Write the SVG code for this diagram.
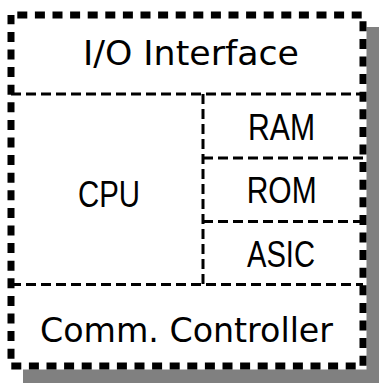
<svg xmlns="http://www.w3.org/2000/svg" width="379" height="383" viewBox="0 0 379 383">
  <style>
    .lbl { font-family: "DejaVu Sans", "Liberation Sans", sans-serif; font-size: 33px; fill: #000; text-anchor: middle; }
    .cap { font-family: "Liberation Sans", Arial, sans-serif; font-size: 37px; fill: #000; text-anchor: middle; }
    .inner { stroke: #000; stroke-width: 3; stroke-dasharray: 10 5; fill: none; }
    .outer { stroke: #000; stroke-width: 7; stroke-dasharray: 10 7.6; stroke-dashoffset: 11.3; fill: none; }
  </style>
  <rect x="23" y="27" width="356" height="356" fill="#808080"/>
  <rect x="7.5" y="11.5" width="359" height="358" fill="#fff"/>
  <g id="connectors">
    <line class="inner" x1="11" y1="94" x2="363" y2="94"/>
    <line class="inner" x1="11" y1="284.5" x2="363" y2="284.5"/>
    <line class="inner" x1="203" y1="94" x2="203" y2="284.5"/>
    <line class="inner" x1="203" y1="158" x2="363" y2="158"/>
    <line class="inner" x1="203" y1="221.5" x2="363" y2="221.5"/>
  </g>
  <g id="outer-box">
    <rect class="outer" x="11" y="15" width="352" height="351"/>
  </g>
  <g id="io-interface">
    <text class="lbl" x="191" y="65" textLength="216" lengthAdjust="spacingAndGlyphs">I/O Interface</text>
  </g>
  <g id="cpu">
    <text class="cap" x="109" y="207" textLength="62" lengthAdjust="spacingAndGlyphs">CPU</text>
  </g>
  <g id="ram">
    <text class="cap" x="281.5" y="140" textLength="67" lengthAdjust="spacingAndGlyphs">RAM</text>
  </g>
  <g id="rom">
    <text class="cap" x="281.7" y="203.3" textLength="70" lengthAdjust="spacingAndGlyphs">ROM</text>
  </g>
  <g id="asic">
    <text class="cap" x="281" y="266.7" textLength="68" lengthAdjust="spacingAndGlyphs">ASIC</text>
  </g>
  <g id="comm-controller">
    <text class="lbl" x="186.5" y="341.7" textLength="293" lengthAdjust="spacingAndGlyphs">Comm. Controller</text>
  </g>
</svg>
